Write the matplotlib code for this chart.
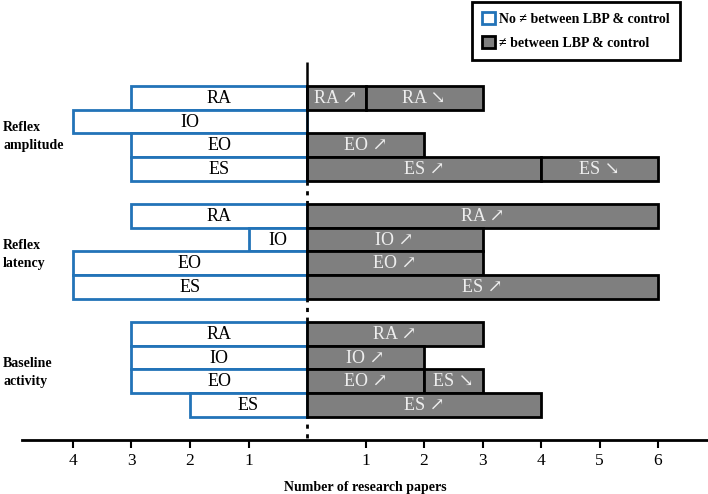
import matplotlib.pyplot as plt
from matplotlib.patches import Patch

SERIF = ["Liberation Serif", "DejaVu Serif"]
plt.rcParams["font.family"] = SERIF

groups = ["Reflex\namplitude", "Reflex\nlatency", "Baseline\nactivity"]
muscles = ["RA", "IO", "EO", "ES"]

# papers with no difference (drawn to the left)
no_diff = [
    [3, 4, 3, 3],
    [3, 1, 4, 4],
    [3, 3, 3, 2],
]

# papers with a difference (drawn to the right), stacked segments
diff_labels = [
    [["RA ↗", "RA ↘"], [], ["EO ↗"], ["ES ↗", "ES ↘"]],
    [["RA ↗"], ["IO ↗"], ["EO ↗"], ["ES ↗"]],
    [["RA ↗"], ["IO ↗"], ["EO ↗", "ES ↘"], ["ES ↗"]],
]
diff_values = [
    [[1, 2], [], [2], [4, 2]],
    [[6], [3], [3], [6]],
    [[3], [2], [2, 1], [4]],
]

left_ticks = [4, 3, 2, 1]
right_ticks = [1, 2, 3, 4, 5, 6]

blue = "#2273b8"
gray = "#7f7f7f"

W, H = 708, 494
fig = plt.figure(figsize=(W / 100, H / 100), dpi=100)
ax = fig.add_axes([22 / W, 1 - 440 / H, 686 / W, 440 / H])

row_px = 23.6
first_px = 98
for g, grp in enumerate(groups):
    for i, mus in enumerate(muscles):
        y = g * 5 + i
        n = no_diff[g][i]
        ax.barh(y, -n, height=1, color="white", edgecolor=blue, linewidth=2, zorder=2)
        ax.text(-n / 2, y + 0.03, mus, ha="center", va="center", fontsize=13, color="black", zorder=4)
        start = 0
        for lab, v in zip(diff_labels[g][i], diff_values[g][i]):
            ax.barh(y, v, left=start, height=1, color=gray, edgecolor="black", linewidth=2, zorder=3)
            ax.text(start + v / 2, y + 0.03, lab, ha="center", va="center", fontsize=13,
                    color="#eeeeee", zorder=4)
            start += v
    # group label
    yc = g * 5 + 1.5
    ypx = first_px + yc * row_px
    fig.text(3 / W, 1 - (ypx + 3) / H, grp, ha="left", va="center", fontsize=10,
             fontweight="bold", linespacing=1.5)

y_top = (62 - first_px) / row_px
y_bot = (440 - first_px) / row_px
ax.set_ylim(y_bot, (0 - first_px) / row_px)
ax.set_xlim((22 - 307) / 58.5, (708 - 307) / 58.5)

# center line: solid at top, dotted below
ax.vlines(0, y_top, 3.5, color="black", linewidth=1.8, zorder=5)
ax.vlines(0, 3.5, y_bot, color="black", linewidth=2, linestyles=(0, (1.5, 2)), zorder=1)

ax.set_xticks([-t for t in left_ticks] + right_ticks)
ax.set_xticklabels([str(t) for t in left_ticks + right_ticks], fontsize=12.5)
ax.tick_params(axis="x", direction="out", length=6, width=1.5, pad=3)
ax.set_yticks([])
for s in ["top", "left", "right"]:
    ax.spines[s].set_visible(False)
ax.spines["bottom"].set_linewidth(2)
fig.text(365 / W, 1 - 487 / H, "Number of research papers", ha="center", va="center",
         fontsize=10, fontweight="bold")

handles = [
    Patch(facecolor="white", edgecolor=blue, linewidth=2),
    Patch(facecolor=gray, edgecolor="black", linewidth=2),
]
leg = fig.legend(handles, ["No ≠ between LBP & control", "≠ between LBP & control"],
                 loc="upper left", bbox_to_anchor=(472 / W, 1 - 2 / H), borderaxespad=0,
                 prop={"family": SERIF, "weight": "bold", "size": 10},
                 handlelength=0.9, handleheight=0.9, handletextpad=0.3,
                 borderpad=0.75, labelspacing=0.75, fancybox=False,
                 framealpha=1, edgecolor="black")
leg.get_frame().set_linewidth(2)

fig.savefig("out.png", dpi=100)
